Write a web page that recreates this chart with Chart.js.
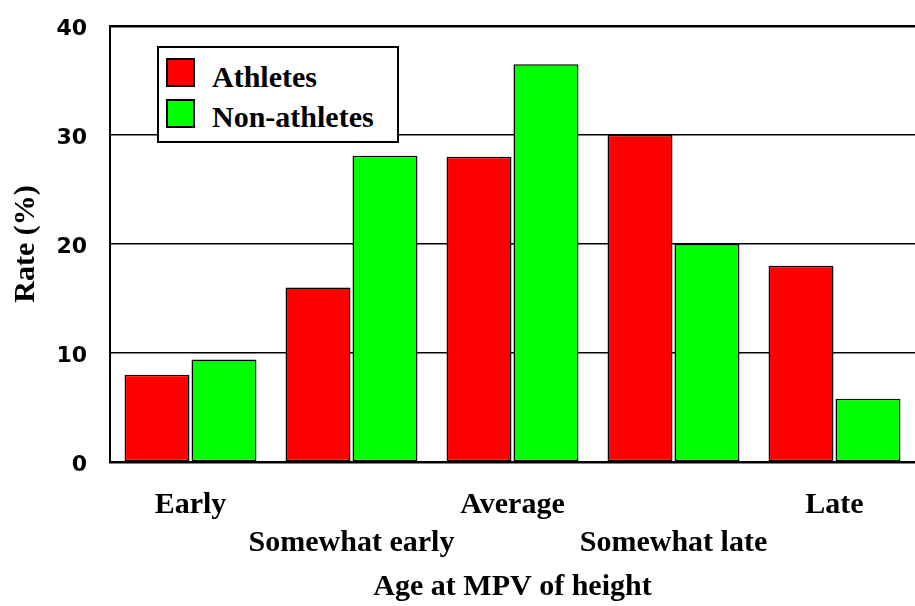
<!DOCTYPE html>
<html>
<head>
<meta charset="utf-8">
<script src="https://cdn.jsdelivr.net/npm/chart.js@4/dist/chart.umd.min.js"></script>
<style>
  html, body { margin: 0; padding: 0; background: #fff; }
  #wrap { position: relative; width: 915px; height: 606px; }
  #legend { position: absolute; left: 157px; top: 46px; width: 238px; height: 93px;
            border: 2px solid #000; background: #fff; box-sizing: content-box; }
  .sw { position: absolute; left: 7px; width: 25px; height: 25px; border: 2px solid #000; }
  .lt { position: absolute; left: 53px; font: bold 30px "Liberation Serif", serif; line-height: 30px; color: #000; white-space: nowrap; }
</style>
</head>
<body>
<div id="wrap">
  <canvas id="c" width="915" height="606"></canvas>
  <div id="legend">
    <div class="sw" style="top:10px;background:#ff0000"></div>
    <div class="lt" style="top:14px">Athletes</div>
    <div class="sw" style="top:51px;background:#00ff00"></div>
    <div class="lt" style="top:54px">Non-athletes</div>
  </div>
</div>
<script>
const categories = ["Early", "Somewhat early", "Average", "Somewhat late", "Late"];
const athletes = [8.0, 16.0, 28.0, 30.0, 18.0];
const nonAthletes = [9.4, 28.1, 36.5, 20.0, 5.8];
const seriesNames = ["Athletes", "Non-athletes"];
const yTicks = [0, 10, 20, 30, 40];

const serif = "'Liberation Serif', 'Times New Roman', serif";

new Chart(document.getElementById('c'), {
  type: 'bar',
  data: {
    labels: categories,
    datasets: [
      { label: seriesNames[0], data: athletes, backgroundColor: '#ff0000', borderColor: '#000', borderWidth: 1.5, borderSkipped: false },
      { label: seriesNames[1], data: nonAthletes, backgroundColor: '#00ff00', borderColor: '#000', borderWidth: 1.5, borderSkipped: false }
    ]
  },
  options: {
    responsive: false,
    animation: false,
    devicePixelRatio: 1,
    layout: { padding: { top: 26, right: 0, bottom: 0, left: 0 } },
    plugins: { legend: { display: false }, tooltip: { enabled: false } },
    datasets: { bar: { categoryPercentage: 0.832, barPercentage: 0.97 } },
    scales: {
      x: {
        grid: { display: false },
        border: { display: true, color: '#000', width: 2.5 },
        ticks: {
          color: '#000',
          autoSkip: false, maxRotation: 0, minRotation: 0,
          padding: 16,
          font: { family: serif, weight: 'bold', size: 30, lineHeight: 1.2667 },
          callback: function(v, i) { const l = categories[i]; return i % 2 === 0 ? [l, ''] : ['', l]; }
        },
        title: {
          display: true, text: 'Age at MPV of height', color: '#000',
          font: { family: serif, weight: 'bold', size: 30, lineHeight: 1.2 },
          padding: { top: 0, bottom: 1 }
        },
        afterFit: function(s) { s.height = 144; s.paddingLeft = 0; s.paddingRight = 0; }
      },
      y: {
        min: 0, max: 40,
        afterBuildTicks: function(s) { s.ticks = yTicks.map(v => ({ value: v })); },
        grid: {
          color: '#000', drawTicks: false,
          lineWidth: function(ctx) { return ctx.tick && ctx.tick.value === 40 ? 2.5 : 1.5; }
        },
        border: { display: true, color: '#000', width: 2 },
        ticks: {
          color: '#000', padding: 23,
          font: { family: "'DejaVu Sans', sans-serif", weight: 'bold', size: 22, lineHeight: 0.27 },
          callback: function(v) { return ['', String(v)]; }
        },
        title: {
          display: true, text: 'Rate (%)', color: '#000',
          font: { family: serif, weight: 'bold', size: 30, lineHeight: 1.2 },
          padding: { top: 8, bottom: 0 }
        },
        afterFit: function(s) { s.width = 110; s.paddingTop = 0; s.paddingBottom = 0; }
      }
    }
  }
});
</script>
</body>
</html>
